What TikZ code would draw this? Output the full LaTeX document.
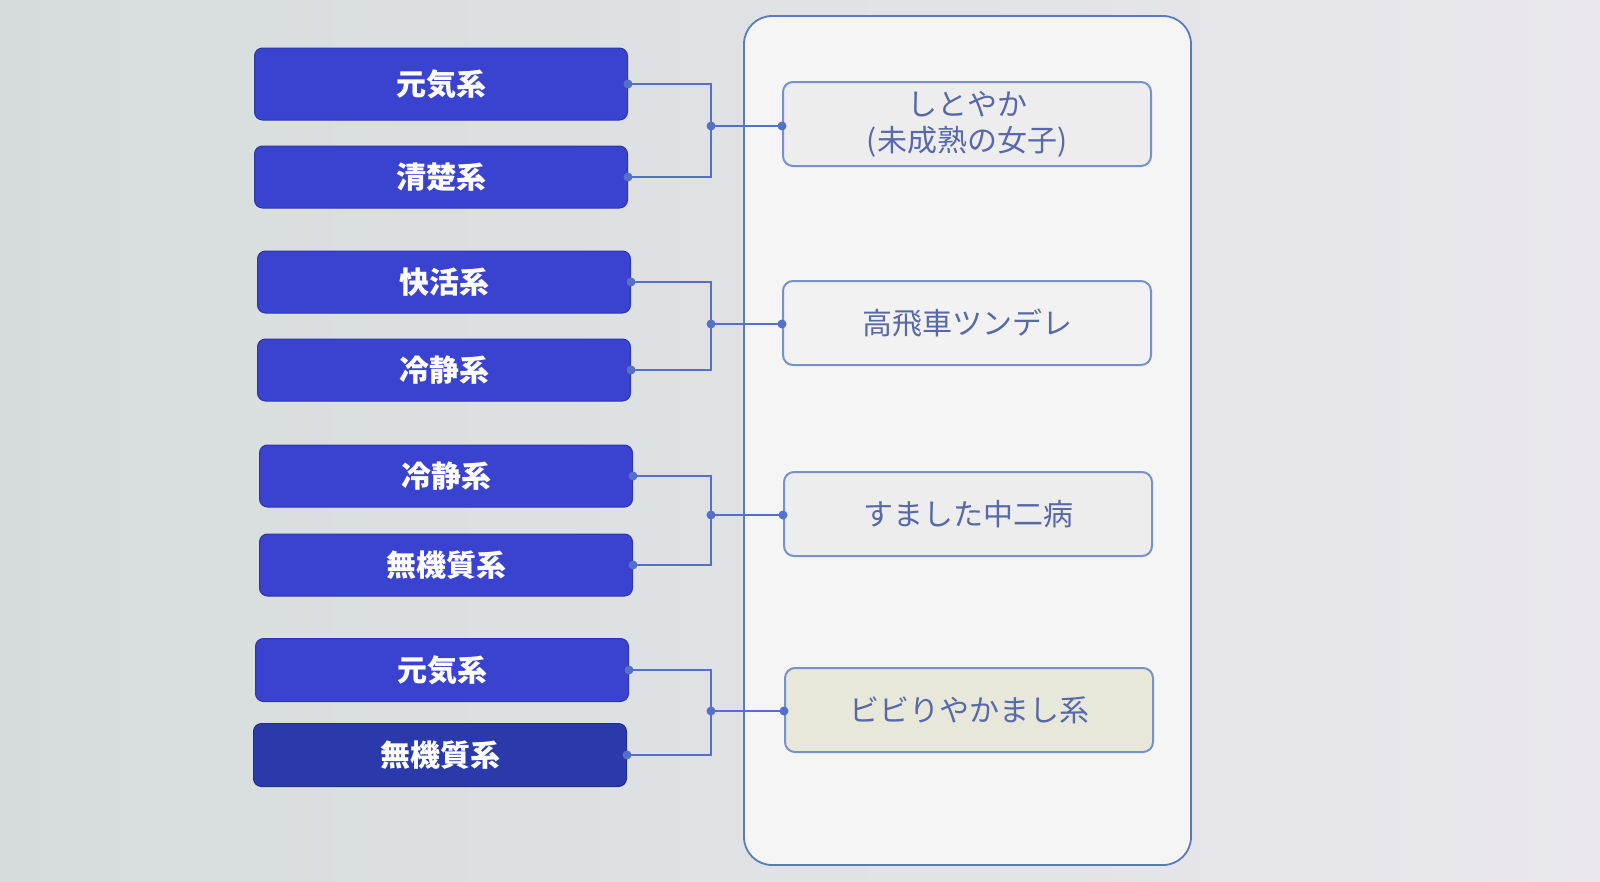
\documentclass[tikz,border=0pt]{standalone}
\usepackage{fontspec}
\newfontfamily\jp{Noto Sans CJK JP}
\definecolor{bluebox}{RGB}{58,66,208}
\definecolor{blueboxdark}{RGB}{42,58,170}
\definecolor{linec}{RGB}{84,112,200}
\definecolor{outerc}{RGB}{90,122,190}
\definecolor{rtext}{RGB}{88,104,168}
\definecolor{rborder}{RGB}{118,146,200}
\definecolor{bgl}{RGB}{214,220,220}
\definecolor{bgr}{RGB}{234,232,238}
\tikzset{
  catbox/.style={draw=bluebox!80!black, line width=1pt, fill=bluebox, rounded corners=8pt,
    minimum width=373pt, text=white, font=\jp\bfseries\fontsize{30}{33}\selectfont, inner sep=0pt},
  typebox/.style={draw=rborder, line width=2pt, fill=white!93!black, rounded corners=10pt,
    minimum width=368pt, minimum height=84pt, text=rtext, font=\jp\fontsize{30}{36}\selectfont,
    align=center, inner sep=0pt},
  conn/.style={draw=linec, line width=1.8pt},
  dotc/.style={fill=linec, circle, inner sep=0pt, minimum size=9pt},
}
\begin{document}
\begin{tikzpicture}[x=1pt,y=-1pt]
\shade[left color=bgl, right color=bgr] (0,0) rectangle (1600,881);
\useasboundingbox (0,0) rectangle (1600,881);
% outer container
\node[draw=outerc, line width=1.8pt, fill=white!96!black, rounded corners=28pt,
      minimum width=447pt, minimum height=849pt, inner sep=0pt] (outer) at (967.5,440.5) {};
% left category boxes
\node[catbox, minimum height=72pt] (b1) at (441,84) {元気系};
\node[catbox, minimum height=62pt] (b2) at (441,177) {清楚系};
\node[catbox, minimum height=62pt] (b3) at (444,282) {快活系};
\node[catbox, minimum height=62pt] (b4) at (444,370) {冷静系};
\node[catbox, minimum height=62pt] (b5) at (446,476) {冷静系};
\node[catbox, minimum height=62pt] (b6) at (446,565) {無機質系};
\node[catbox, minimum height=63pt] (b7) at (442,670) {元気系};
\node[catbox, minimum height=63pt, fill=blueboxdark, draw=blueboxdark!80!black] (b8) at (440,755) {無機質系};
% right type boxes
\node[typebox] (r1) at (967,124) {しとやか\\(未成熟の女子)};
\node[typebox, fill=white!95!black] (r2) at (967,323) {高飛車ツンデレ};
\node[typebox] (r3) at (968,514) {すました中二病};
\node[typebox, fill={rgb,255:red,232;green,232;blue,218}] (r4) at (969,710) {ビビりやかまし系};
% junctions
\coordinate (j1) at (711,126);
\coordinate (j2) at (711,324);
\coordinate (j3) at (711,515);
\coordinate (j4) at (711,711);
% connectors
\foreach \a/\b/\j/\r in {b1/b2/j1/r1, b3/b4/j2/r2, b5/b6/j3/r3, b7/b8/j4/r4}{
  \draw[conn] (\a.east) -| (\j);
  \draw[conn] (\b.east) -| (\j);
  \draw[conn] (\j) -- (\r.west |- \j);
  \node[dotc] at (\a.east) {};
  \node[dotc] at (\b.east) {};
  \node[dotc] at (\j) {};
  \node[dotc] at (\r.west |- \j) {};
}
\end{tikzpicture}
\end{document}
